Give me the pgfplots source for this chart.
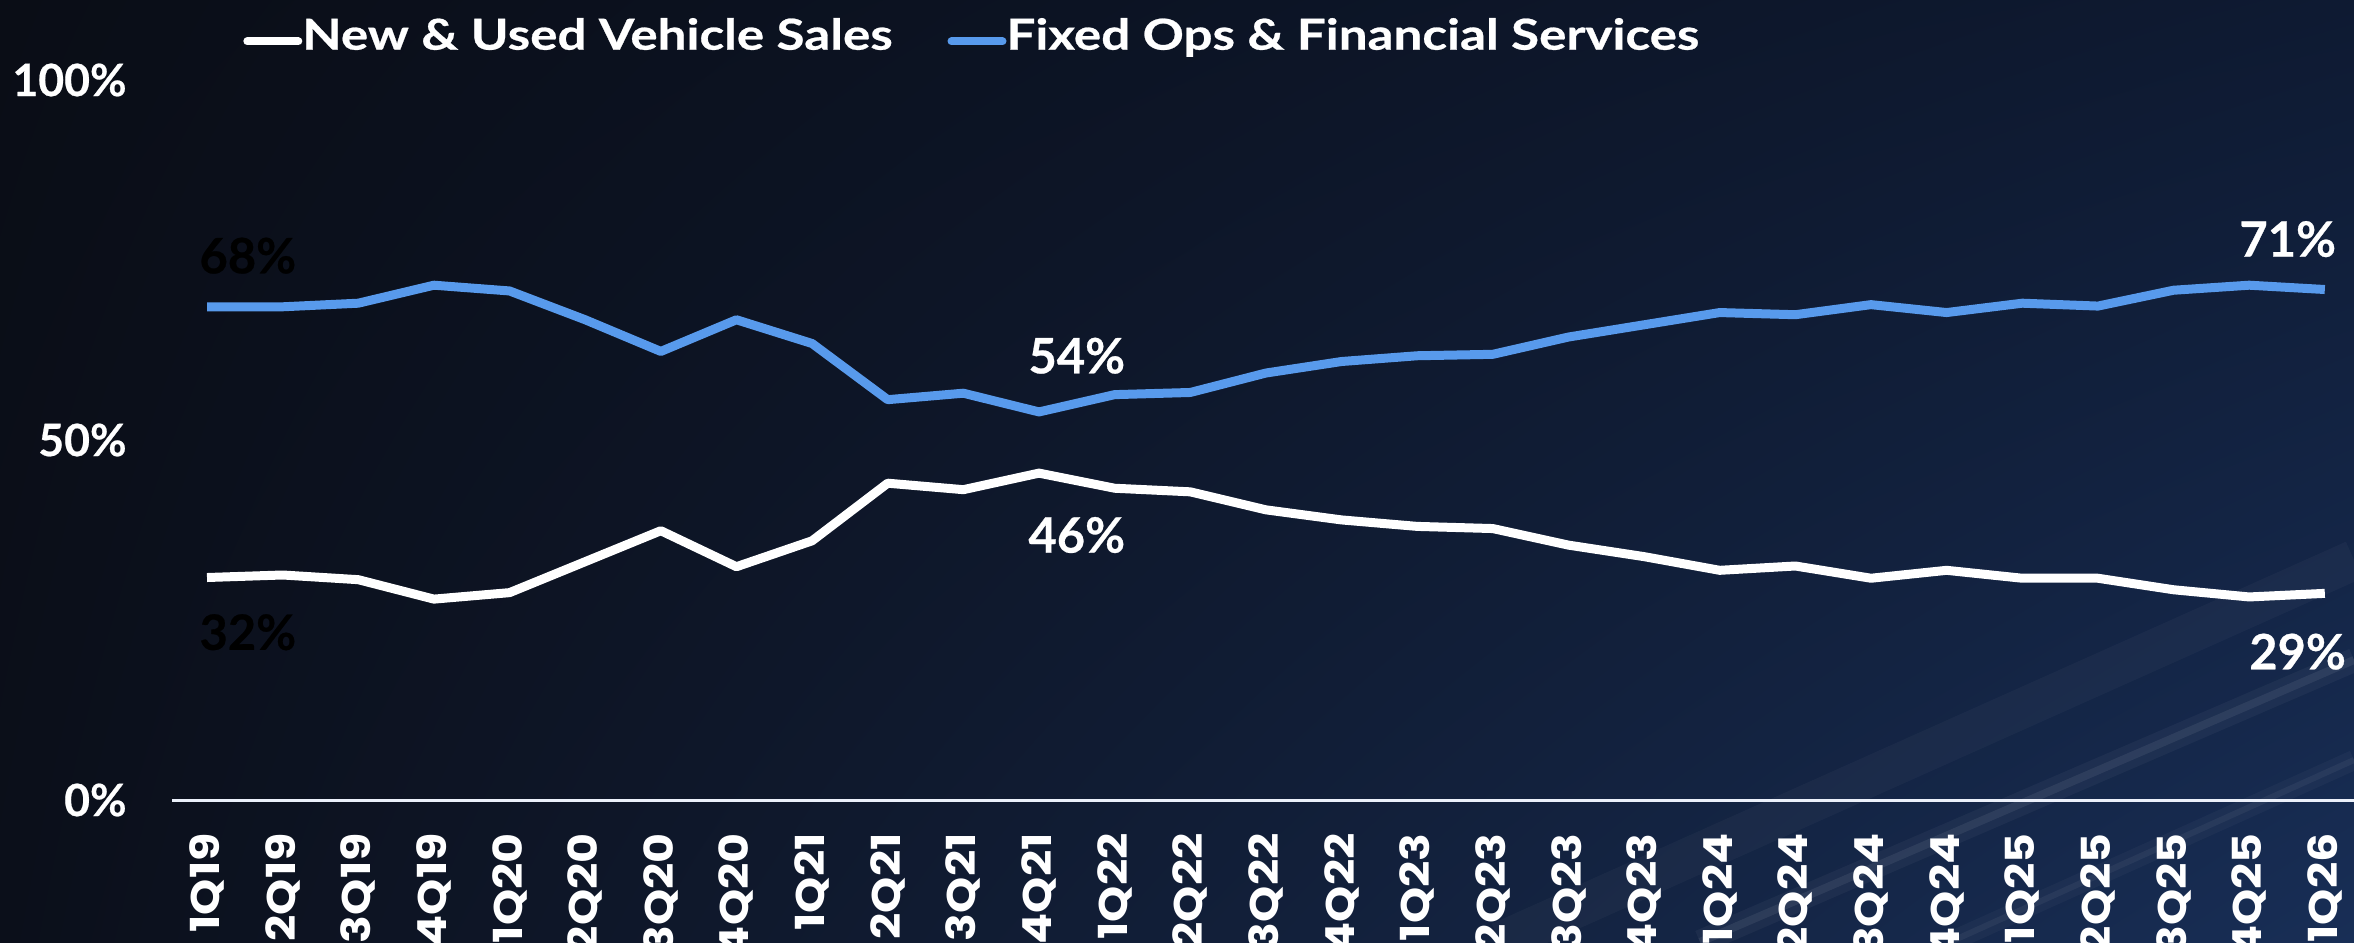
\documentclass[border=0pt]{standalone}
\usepackage{pgfplots}
\pgfplotsset{compat=1.18}
\usepackage{fontspec}
\setmainfont{Lato}
\newfontfamily\legfont{Lato}[FakeStretch=1.2, FakeBold=0.6]
\newfontfamily\labfont{Lato}[FakeBold=0.5]
\newfontfamily\tickfont{Poppins}[FakeStretch=1.15]
\usetikzlibrary{fadings,shadings}
\definecolor{bgUL}{RGB}{10,13,22}
\definecolor{bgLL}{RGB}{11,15,26}
\definecolor{bgUR}{RGB}{14,26,50}
\definecolor{bgLR}{RGB}{24,46,86}
\definecolor{blueline}{RGB}{88,154,236}
\definecolor{axiswhite}{RGB}{235,240,250}
\pgfplotstableread{
x white blue
0 30.9 68.5
1 31.25 68.5
2 30.6 69.0
3 27.9 71.5
4 28.8 70.7
5 33.1 66.7
6 37.4 62.3
7 32.4 66.7
8 36.0 63.4
9 44.0 55.6
10 43.1 56.5
11 45.4 53.9
12 43.3 56.3
13 42.8 56.6
14 40.3 59.3
15 38.9 60.9
16 38.0 61.7
17 37.7 61.9
18 35.4 64.3
19 33.8 66.0
20 31.9 67.7
21 32.5 67.4
22 30.8 68.8
23 31.9 67.7
24 30.8 69.0
25 30.8 68.6
26 29.2 70.8
27 28.2 71.5
28 28.7 70.9
}\datatable
\begin{document}
\begin{tikzpicture}
\useasboundingbox (0pt,0pt) rectangle (1177pt,471pt);
\clip (0pt,0pt) rectangle (1177pt,471pt);
\shade[upper left=bgUL, lower left=bgLL, upper right=bgUR, lower right=bgLR] (0pt,0pt) rectangle (1177pt,471pt);
% light streaks
\draw[white, opacity=0.03, line width=20pt] (750pt,0pt) -- (1177pt,191pt);
\draw[white, opacity=0.04, line width=12pt] (850pt,0pt) -- (1177pt,141pt);
\draw[white, opacity=0.07, line width=4pt] (850pt,0pt) -- (1177pt,141pt);
\draw[white, opacity=0.03, line width=10pt] (975pt,0pt) -- (1177pt,91pt);
\draw[white, opacity=0.05, line width=3pt] (975pt,0pt) -- (1177pt,91pt);
\begin{axis}[
  at={(86pt,71pt)}, anchor=south west,
  scale only axis, width=1091pt, height=360pt,
  xmin=-0.463, xmax=28.386, ymin=0, ymax=100,
  axis x line=bottom, axis y line=left,
  x axis line style={draw=axiswhite, line width=1.5pt, -},
  y axis line style={draw=none},
  major tick length=0pt,
  xtick={0,...,28},
  xticklabels={1Q19,2Q19,3Q19,4Q19,1Q20,2Q20,3Q20,4Q20,1Q21,2Q21,3Q21,4Q21,1Q22,2Q22,3Q22,4Q22,1Q23,2Q23,3Q23,4Q23,1Q24,2Q24,3Q24,4Q24,1Q25,2Q25,3Q25,4Q25,1Q26},
  ytick={0,50,100},
  yticklabels={0\%,50\%,100\%},
  xticklabel shift=16.5pt,
  yticklabel shift=22.5pt,
  xticklabel style={rotate=90, anchor=east, inner sep=0pt, text=white, font=\tickfont\bfseries\fontsize{20}{24}\selectfont},
  yticklabel style={anchor=east, inner sep=0pt, text=white, font=\labfont\bfseries\fontsize{22.3}{26}\selectfont},
  clip=false,
  legend columns=2,
  legend cell align=left,
  legend style={at={(axis description cs:0.0325,1.062)}, anchor=west, draw=none, fill=none, text=white,
    font=\legfont\bfseries\fontsize{21.3}{24}\selectfont, inner sep=0pt, nodes={inner sep=0pt},
    /tikz/every even column/.append style={column sep=27.5pt}},
  legend image code/.code={\draw[#1, line width=4pt, line cap=round] (2pt,-3pt) -- (27.5pt,-3pt);},
]
\addplot[white, line width=4.5pt, line join=round] table[x=x, y=white] {\datatable};
\addlegendentry{New \& Used Vehicle Sales}
\addplot[blueline, line width=4.5pt, line join=round] table[x=x, y=blue] {\datatable};
\addlegendentry{Fixed Ops \& Financial Services}
\node[black, font=\labfont\bfseries\fontsize{24.4}{28}\selectfont] at (axis cs:0.54,75.6) {68\%};
\node[black, font=\labfont\bfseries\fontsize{24.4}{28}\selectfont] at (axis cs:0.54,23.3) {32\%};
\node[white, font=\labfont\bfseries\fontsize{24.4}{28}\selectfont] at (axis cs:11.5,61.7) {54\%};
\node[white, font=\labfont\bfseries\fontsize{24.4}{28}\selectfont] at (axis cs:11.5,36.8) {46\%};
\node[white, font=\labfont\bfseries\fontsize{24.4}{28}\selectfont] at (axis cs:27.51,77.9) {71\%};
\node[white, font=\labfont\bfseries\fontsize{24.4}{28}\selectfont] at (axis cs:27.64,20.6) {29\%};
\end{axis}
\end{tikzpicture}
\end{document}
